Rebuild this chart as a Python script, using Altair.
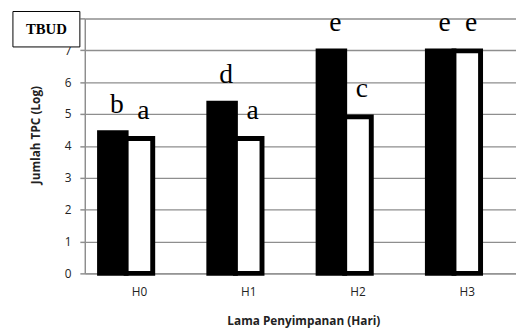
import altair as alt
import pandas as pd

categories = ["H0", "H1", "H2", "H3"]
series_names = ["Hitam", "Putih", "Kosong"]
black_values = [4.41, 5.34, 6.98, 6.98]
white_values = [4.23, 4.23, 4.91, 6.98]
black_letters = ["b", "d", "e", "e"]
white_letters = ["a", "a", "c", "e"]
y_ticks = [0, 1, 2, 3, 4, 5, 6, 7, 8]
box_label = ["TBUD"]

rows = []
for i, c in enumerate(categories):
    rows.append({"cat": c, "series": "Hitam", "value": black_values[i], "letter": black_letters[i]})
    rows.append({"cat": c, "series": "Putih", "value": white_values[i], "letter": white_letters[i]})
df = pd.DataFrame(rows)

GRID = "#8e8e8e"

x = alt.X(
    "cat:N", sort=categories,
    scale=alt.Scale(paddingInner=0.27, paddingOuter=0.135, range=[0, 444]),
    axis=alt.Axis(
        title="Lama Penyimpanan (Hari)", labelAngle=0, ticks=False,
        domainColor=GRID, domainWidth=1.5, labelPadding=13,
        labelFont="Open Sans", labelFontSize=12, labelColor="#222",
        titleFont="Open Sans", titleFontSize=12, titleFontWeight="bold",
        titleColor="#222", titleY=52, titleBaseline="alphabetic", grid=False,
    ),
)
xo = alt.XOffset("series:N", scale=alt.Scale(domain=series_names, paddingInner=0, paddingOuter=0))
y = alt.Y(
    "value:Q",
    scale=alt.Scale(domain=[0, 8], nice=False),
    axis=alt.Axis(
        values=y_ticks, title="Jumlah TPC (Log)",
        labelExpr="datum.value == 8 ? '' : datum.label",
        tickSize=5, tickColor=GRID, tickWidth=1.5,
        domainColor=GRID, domainWidth=1.5,
        gridColor=GRID, gridWidth=1.5,
        labelPadding=9, labelFont="Open Sans", labelFontSize=12, labelColor="#222",
        titleFont="Open Sans", titleFontSize=12, titleFontWeight="bold", titleColor="#222",
        titleX=-50, titleY=118, titleBaseline="middle",
    ),
)

bars = alt.Chart(df).mark_bar(stroke="black", strokeWidth=5).encode(
    x=x, xOffset=xo, y=y,
    fill=alt.Fill("series:N", scale=alt.Scale(domain=series_names, range=["black", "white", "white"]), legend=None),
)

letters = alt.Chart(df).mark_text(
    font="Liberation Serif", fontSize=28, baseline="alphabetic", dy=-20, dx=4, color="black"
).encode(x=x, xOffset=xo, y=y, text="letter:N")

box_df = pd.DataFrame({"label": box_label})
box = alt.Chart(box_df).mark_rect(fill="white", stroke="black", strokeWidth=1).encode(
    x=alt.value(-73), x2=alt.value(-5), y=alt.value(-7), y2=alt.value(29)
)
box_text = alt.Chart(box_df).mark_text(
    font="Liberation Serif", fontWeight="bold", fontSize=15, baseline="middle", color="black"
).encode(x=alt.value(-39), y=alt.value(11), text="label:N")

chart = alt.layer(bars, letters, box, box_text).properties(
    width=438, height=259, autosize="none",
    padding={"left": 78, "top": 8, "right": 0, "bottom": 58},
).configure_view(stroke=None)

chart.save("out.html", embed_options={"renderer": "svg", "actions": False})
